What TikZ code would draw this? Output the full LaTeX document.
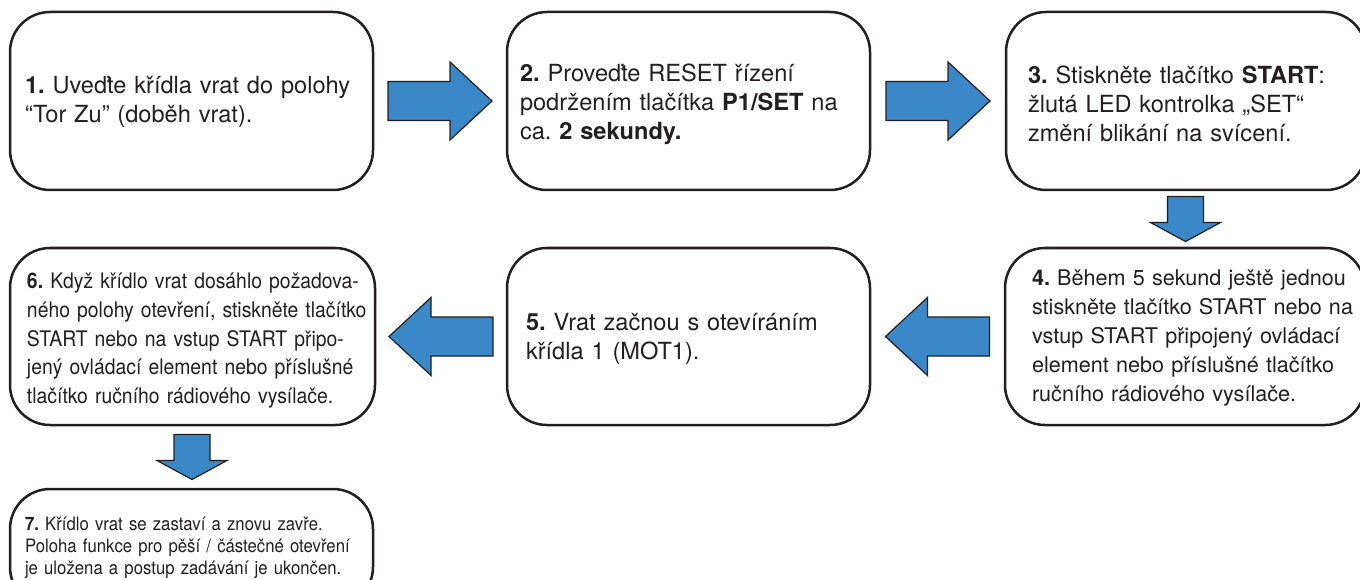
\documentclass[tikz,border=0pt]{standalone}
\usepackage{fontspec}
\setmainfont{TeX Gyre Heros}
\newfontfamily\narrowfont[FakeStretch=0.905]{TeX Gyre Heros}
\usetikzlibrary{calc}
\definecolor{ink}{HTML}{231F20}
\definecolor{flow}{HTML}{3A88C8}
% invisible strut that lowers a text block inside its box
\newcommand\lowerby[1]{\rule{0pt}{#1}}
\tikzset{
  stepbox/.style={draw=ink, line width=2.5pt, rounded corners=40pt, fill=white,
    text=ink, align=left, inner sep=0pt, minimum height=178pt, minimum width=363pt},
  bigtext/.style={font=\frenchspacing\fontsize{23.6}{29}\selectfont},
  midtext/.style={font=\frenchspacing\fontsize{21.6}{29}\selectfont},
  narrowtext/.style={font=\frenchspacing\narrowfont\fontsize{21.4}{28.7}\selectfont},
  smalltext/.style={font=\frenchspacing\narrowfont\fontsize{18.5}{22}\selectfont},
  arrowline/.style={draw=ink, line width=1.2pt, fill=flow, line join=miter},
  hflow/.pic={\draw[arrowline] (-52,-19.5) -- (10,-19.5) -- (10,-39) -- (52,0)
      -- (10,39) -- (10,19.5) -- (-52,19.5) -- cycle;},
  vflow/.pic={\draw[arrowline] (-22.5,-18) -- (3.5,-18) -- (3.5,-35) -- (22.5,0)
      -- (3.5,35) -- (3.5,18) -- (-22.5,18) -- cycle;}
}
\begin{document}
\begin{tikzpicture}[x=1pt,y=-1pt]
  \useasboundingbox (0,0) rectangle (1360,580);
  \clip (0,0) rectangle (1360,580);
  \fill[white] (0,0) rectangle (1360,580);

  % top row
  \node[stepbox, bigtext, text width=333pt] (b1) at (191.5,101)
    {\lowerby{20pt}\textbf{1.} Uveďte křídla vrat do polohy\\“Tor Zu” (doběh vrat).};
  \node[stepbox, bigtext, text width=337pt] (b2) at (688.5,101)
    {\lowerby{24pt}\textbf{2.} Proveďte RESET řízení\\podržením tlačítka \textbf{P1/SET} na\\ca. \textbf{2 sekundy.}};
  \node[stepbox, bigtext, minimum width=360pt, text width=316pt] (b3) at (1186,101)
    {\lowerby{24pt}\textbf{3.} Stiskněte tlačítko \textbf{START}:\\žlutá LED kontrolka „SET“\\změní blikání na svícení.};

  % second row
  \node[stepbox, midtext, minimum width=360pt, minimum height=177pt, text width=306pt] (b4) at (1185,336.5)
    {\mbox{\lowerby{18pt}\textbf{4.} Během 5 sekund ještě jednou}\\\mbox{stiskněte tlačítko START nebo na}\\\mbox{vstup START připojený ovládací}\\\mbox{element nebo příslušné tlačítko}\\\mbox{ručního rádiového vysílače.}};
  \node[stepbox, bigtext, minimum height=177pt, text width=325pt] (b5) at (688.5,336.5)
    {\lowerby{23pt}\textbf{5.} Vrat začnou s otevíráním\\křídla 1 (MOT1).};
  \node[stepbox, narrowtext, minimum width=365pt, minimum height=177pt, text width=331pt] (b6) at (192.5,336.5)
    {\mbox{\lowerby{24pt}\textbf{6.} Když křídlo vrat dosáhlo požadova-}\\\mbox{ného polohy otevření, stiskněte tlačítko}\\\mbox{START nebo na vstup START připo-}\\\mbox{jený ovládací element nebo příslušné}\\\mbox{tlačítko ručního rádiového vysílače.}};

  % last step
  \node[stepbox, smalltext, minimum height=118pt, text width=333pt] (b7) at (191.5,548)
    {\mbox{\textbf{7.} Křídlo vrat se zastaví a znovu zavře.}\\\mbox{Poloha funkce pro pěší / částečné otevření}\\\mbox{je uložena a postup zadávání je ukončen.}};

  % flow arrows between the steps
  \pic at ($(b1.east)!0.5!(b2.west)$) {hflow};
  \pic at ($(b2.east)!0.5!(b3.west)$) {hflow};
  \pic[rotate=-90] at ($(b3.south)!0.5!(b4.north)$) {vflow};
  \pic[rotate=180] at ($(b4.west)!0.5!(b5.east)$) {hflow};
  \pic[rotate=180] at ($(b5.west)!0.5!(b6.east)$) {hflow};
  \pic[rotate=-90] at ($(b6.south)!0.5!(b7.north)$) {vflow};
\end{tikzpicture}
\end{document}
